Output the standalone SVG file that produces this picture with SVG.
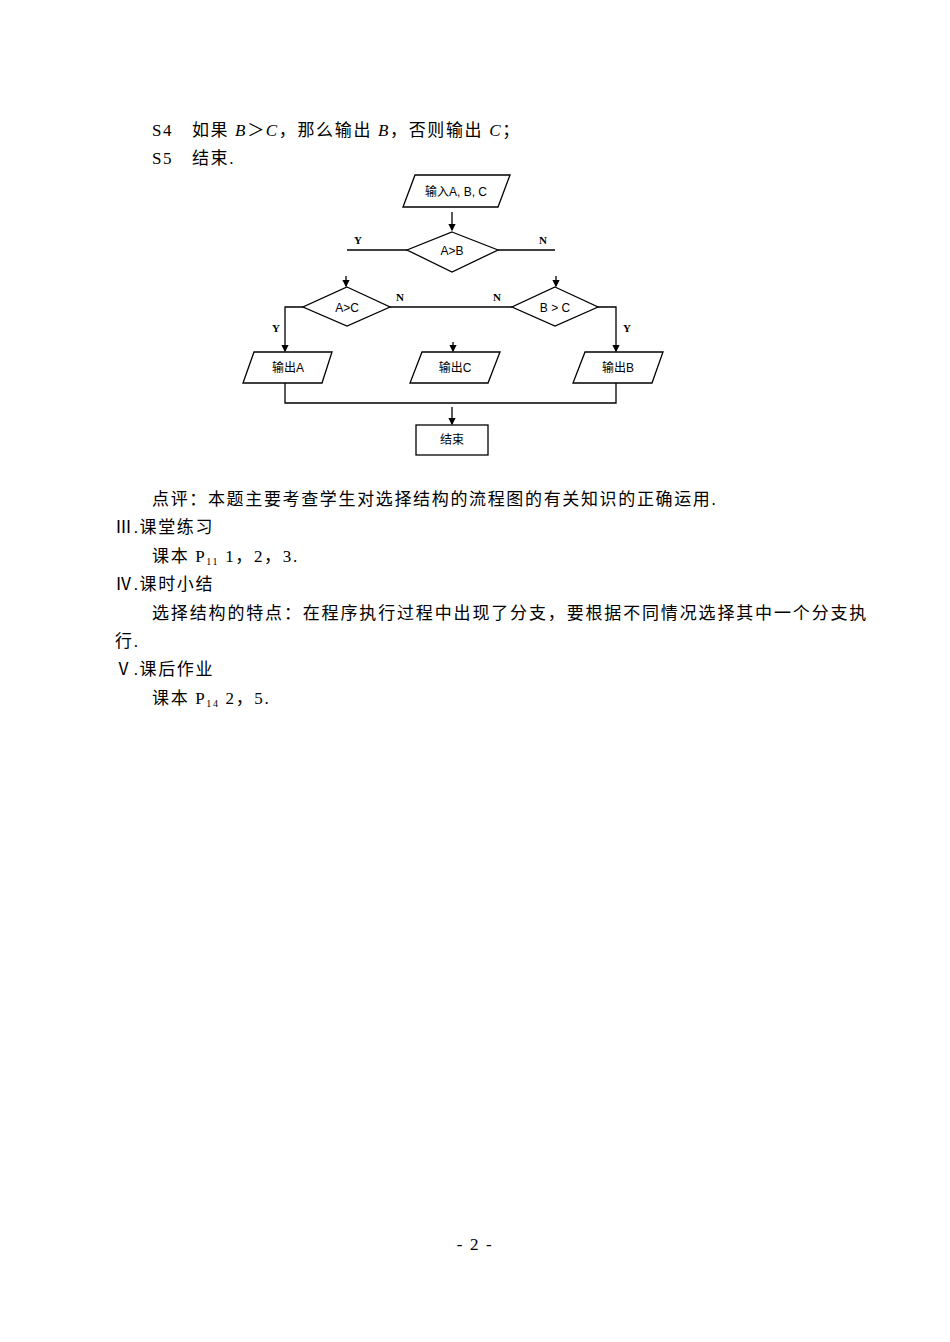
<svg xmlns="http://www.w3.org/2000/svg" width="950" height="1342" viewBox="0 0 950 1342">
<style>
.t{font-family:"Liberation Serif","Noto Sans CJK SC",serif;font-size:17px;fill:#000;letter-spacing:1.65px}
.s{fill:#fff;stroke:#000;stroke-width:1.3}
.l{fill:none;stroke:#000;stroke-width:1.3}
.n{font-family:"Liberation Sans","Noto Sans CJK SC",sans-serif;font-size:12px;text-anchor:middle;fill:#000}
.y{font-family:"Liberation Serif",serif;font-size:11px;font-weight:bold;text-anchor:middle}
</style>
<defs><marker id="a" markerWidth="6" markerHeight="6" refX="5" refY="3" orient="auto"><path d="M0,0L6,3L0,6z"/></marker></defs>
<rect width="950" height="1342" fill="#fff"/>
<text class="t" x="152" y="136">S4　如果 <tspan font-style="italic">B</tspan>＞<tspan font-style="italic">C</tspan>，那么输出 <tspan font-style="italic">B</tspan>，否则输出 <tspan font-style="italic">C</tspan>；</text>
<text class="t" x="152" y="164">S5　结束.</text>
<g id="connectors">
<path class="l" d="M452,212V230" marker-end="url(#a)"/>
<path class="l" d="M347,250H407M498,250H555"/>
<path class="l" d="M346,276V286" marker-end="url(#a)"/>
<path class="l" d="M556,276V286" marker-end="url(#a)"/>
<path class="l" d="M390,307H512"/>
<path class="l" d="M303,307H285V351" marker-end="url(#a)"/>
<path class="l" d="M598,307H616V351" marker-end="url(#a)"/>
<path class="l" d="M453,342V351" marker-end="url(#a)"/>
<path class="l" d="M285,383V403H616V383"/>
<path class="l" d="M452,407V424" marker-end="url(#a)"/>
<text class="y" x="358" y="244">Y</text><text class="y" x="543" y="244">N</text>
<text class="y" x="400" y="301">N</text><text class="y" x="497" y="301">N</text>
<text class="y" x="276" y="332">Y</text><text class="y" x="627" y="332">Y</text>
</g>
<g id="input"><path class="s" d="M415,175H510L498,207H403Z"/><text class="n" x="456" y="196">输入A, B, C</text></g>
<g id="d1"><path class="s" d="M452,232L498,250L452,272L407,250Z"/><text class="n" x="452" y="255">A&gt;B</text></g>
<g id="d2"><path class="s" d="M347,287L390,307L347,326L303,307Z"/><text class="n" x="347" y="312">A&gt;C</text></g>
<g id="d3"><path class="s" d="M555,287L598,307L555,326L512,307Z"/><text class="n" x="555" y="312">B &gt; C</text></g>
<g id="outA"><path class="s" d="M254,352H332L322,383H243Z"/><text class="n" x="288" y="372">输出A</text></g>
<g id="outC"><path class="s" d="M422,352H500L488,383H410Z"/><text class="n" x="455" y="372">输出C</text></g>
<g id="outB"><path class="s" d="M585,352H663L652,383H573Z"/><text class="n" x="618" y="372">输出B</text></g>
<g id="end"><rect class="s" x="416" y="425" width="72" height="30"/><text class="n" x="452" y="444">结束</text></g>
<text class="t" x="152" y="505">点评：本题主要考查学生对选择结构的流程图的有关知识的正确运用.</text>
<text class="t" x="115" y="533">Ⅲ.课堂练习</text>
<text class="t" x="152" y="562">课本 P<tspan font-size="10" dy="3">11</tspan><tspan dy="-3"> 1，2，3.</tspan></text>
<text class="t" x="115" y="590">Ⅳ.课时小结</text>
<text class="t" x="152" y="619" textLength="716">选择结构的特点：在程序执行过程中出现了分支，要根据不同情况选择其中一个分支执</text>
<text class="t" x="115" y="647">行.</text>
<text class="t" x="115" y="675">Ⅴ.课后作业</text>
<text class="t" x="152" y="704">课本 P<tspan font-size="10" dy="3">14</tspan><tspan dy="-3"> 2，5.</tspan></text>
<text class="t" x="475" y="1250" text-anchor="middle" font-size="15" letter-spacing="0">- 2 -</text>
</svg>
